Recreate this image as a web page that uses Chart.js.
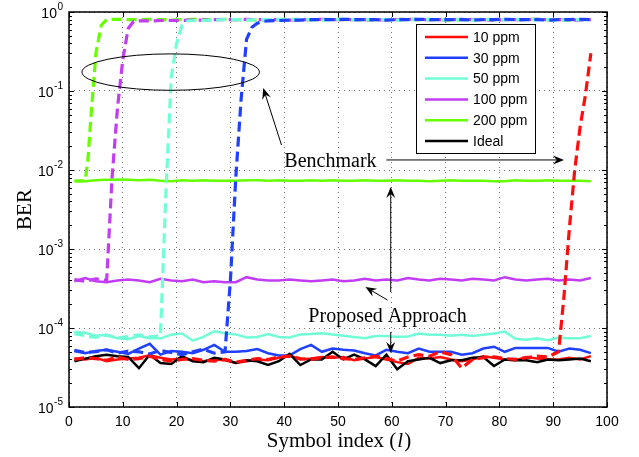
<!DOCTYPE html>
<html>
<head>
<meta charset="utf-8">
<script src="https://cdn.jsdelivr.net/npm/chart.js@4/dist/chart.umd.min.js"></script>
<style>
  body { margin: 0; background: #fff; }
  canvas { display: block; }
</style>
</head>
<body>
<canvas id="berChart" width="639" height="457"></canvas>
<script>
// ---- data ----
const xTicks = [0, 10, 20, 30, 40, 50, 60, 70, 80, 90, 100];
const yDecades = [1e-5, 1e-4, 1e-3, 1e-2, 1e-1, 1];
const yExponents = ['-5', '-4', '-3', '-2', '-1', '0'];
const minorSteps = [2, 3, 4, 5, 6, 7, 8, 9];

const symbolIdx = [1,3,5,7,9,11,13,15,17,19,21,23,25,27,29,31,33,35,37,39,41,43,45,47,49,
  51,53,55,57,59,61,63,65,67,69,71,73,75,77,79,81,83,85,87,89,91,93,95,97];

// proposed approach (solid)
const ber10 = [4.1e-5,4.0e-5,4.2e-5,3.8e-5,4.0e-5,4.1e-5,4.2e-5,4.5e-5,4.2e-5,4.0e-5,
  4.1e-5,3.9e-5,3.8e-5,4.0e-5,3.9e-5,3.6e-5,3.8e-5,4.0e-5,3.9e-5,4.2e-5,
  4.5e-5,4.0e-5,4.1e-5,4.3e-5,4.2e-5,4.3e-5,3.9e-5,4.1e-5,4.3e-5,4.0e-5,
  3.7e-5,3.5e-5,4.2e-5,4.1e-5,4.3e-5,4.0e-5,3.8e-5,4.0e-5,4.4e-5,4.2e-5,
  4.0e-5,3.9e-5,4.3e-5,4.1e-5,4.0e-5,4.0e-5,4.2e-5,4.0e-5,4.4e-5];
const ber30 = [5.1e-5,4.8e-5,5.1e-5,5.3e-5,5.0e-5,4.7e-5,5.5e-5,6.3e-5,4.6e-5,5.1e-5,
  5.0e-5,4.8e-5,5.3e-5,6.1e-5,5.0e-5,5.0e-5,5.1e-5,5.4e-5,4.8e-5,4.5e-5,
  4.5e-5,5.4e-5,6.1e-5,5.0e-5,5.5e-5,5.3e-5,5.2e-5,4.8e-5,4.5e-5,5.3e-5,
  5.0e-5,4.8e-5,5.5e-5,5.0e-5,5.0e-5,5.0e-5,4.6e-5,4.8e-5,5.5e-5,5.8e-5,
  5.0e-5,5.6e-5,5.6e-5,5.6e-5,5.6e-5,5.0e-5,5.5e-5,5.3e-5,4.8e-5];
const ber50 = [8.9e-5,8.7e-5,8.0e-5,8.2e-5,7.4e-5,7.2e-5,7.9e-5,7.4e-5,7.4e-5,8.2e-5,
  8.5e-5,6.9e-5,7.7e-5,9.1e-5,8.6e-5,8.3e-5,7.6e-5,7.7e-5,8.4e-5,7.7e-5,
  7.6e-5,8.3e-5,8.4e-5,8.6e-5,8.3e-5,8.0e-5,7.7e-5,7.4e-5,7.9e-5,7.9e-5,
  7.7e-5,7.8e-5,8.5e-5,8.2e-5,8.2e-5,8.0e-5,8.2e-5,7.9e-5,8.2e-5,8.5e-5,
  9.0e-5,7.3e-5,7.1e-5,7.4e-5,7.0e-5,7.5e-5,7.4e-5,7.4e-5,7.9e-5];
const ber100 = [3.9e-4,4.3e-4,3.9e-4,3.8e-4,4.0e-4,4.1e-4,4.0e-4,3.8e-4,4.2e-4,4.0e-4,
  3.9e-4,4.1e-4,3.8e-4,3.9e-4,3.8e-4,3.8e-4,4.4e-4,4.1e-4,4.0e-4,4.0e-4,
  4.1e-4,4.0e-4,3.9e-4,4.0e-4,4.1e-4,3.9e-4,4.0e-4,4.2e-4,4.0e-4,4.1e-4,
  4.0e-4,4.3e-4,4.1e-4,4.0e-4,4.2e-4,4.1e-4,4.0e-4,4.2e-4,4.1e-4,4.0e-4,
  4.4e-4,4.1e-4,4.0e-4,4.1e-4,4.2e-4,4.0e-4,4.1e-4,4.0e-4,4.3e-4];
const ber200 = [7.3e-3,7.2e-3,7.4e-3,7.5e-3,7.6e-3,7.5e-3,7.4e-3,7.5e-3,7.3e-3,7.2e-3,
  7.4e-3,7.3e-3,7.4e-3,7.3e-3,7.3e-3,7.3e-3,7.4e-3,7.4e-3,7.3e-3,7.4e-3,
  7.3e-3,7.3e-3,7.4e-3,7.3e-3,7.4e-3,7.3e-3,7.3e-3,7.4e-3,7.3e-3,7.3e-3,
  7.4e-3,7.3e-3,7.3e-3,7.2e-3,7.3e-3,7.4e-3,7.3e-3,7.3e-3,7.3e-3,7.2e-3,
  7.2e-3,7.4e-3,7.3e-3,7.3e-3,7.4e-3,7.3e-3,7.3e-3,7.3e-3,7.2e-3];
const berIdeal = [3.8e-5,4.1e-5,4.4e-5,4.6e-5,4.4e-5,4.3e-5,3.1e-5,4.6e-5,3.6e-5,3.5e-5,
  4.4e-5,3.8e-5,3.7e-5,4.2e-5,4.0e-5,3.6e-5,3.9e-5,3.8e-5,3.4e-5,3.8e-5,
  4.7e-5,3.4e-5,4.0e-5,4.0e-5,5.0e-5,4.0e-5,4.6e-5,4.0e-5,3.3e-5,4.6e-5,
  3.0e-5,3.8e-5,4.0e-5,4.2e-5,3.6e-5,3.9e-5,3.9e-5,4.2e-5,4.3e-5,3.3e-5,
  4.0e-5,3.9e-5,3.9e-5,3.7e-5,4.0e-5,3.9e-5,4.0e-5,4.1e-5,3.8e-5];

// benchmark (dashed)
const bench200X = [1,2,3,3.5,4,5,6,7,9,11,13,15,17,19,21,23,25,27,29,31,33,35,37,39,41,43,45,47,
  49,51,53,55,57,59,61,63,65,67,69,71,73,75,77,79,81,83,85,87,89,91,93,95,97];
const bench200 = [7.2e-3,7.3e-3,7.3e-3,0.013,0.04,0.3,0.68,0.8,
  0.81,0.8,0.8,0.81,0.8,0.79,0.8,0.81,0.8,0.8,0.81,0.8,0.8,0.79,0.8,0.8,0.81,0.8,0.8,0.8,
  0.81,0.8,0.8,0.79,0.8,0.8,0.8,0.81,0.8,0.8,0.8,0.79,0.8,0.8,0.81,0.8,0.8,0.8,0.8,0.81,
  0.8,0.8,0.79,0.8,0.8];
const bench100X = [1,3,5,7,8,9,10,11,12,13,15,17,19,21,23,25,27,29,31,33,35,37,39,41,43,45,47,
  49,51,53,55,57,59,61,63,65,67,69,71,73,75,77,79,81,83,85,87,89,91,93,95,97];
const bench100 = [4.1e-4,3.9e-4,4.2e-4,4.0e-4,0.008,0.06,0.25,0.62,0.76,
  0.77,0.77,0.78,0.78,0.78,0.79,0.79,0.8,0.8,0.8,0.81,0.8,0.8,0.8,0.79,0.8,0.8,0.81,0.8,0.8,
  0.8,0.8,0.79,0.8,0.8,0.81,0.8,0.8,0.8,0.8,0.81,0.8,0.8,0.79,0.8,0.8,0.8,0.81,0.8,0.8,
  0.8,0.79,0.8];
const bench50X = [1,3,5,7,9,11,13,15,17,18,19,20,21,22,23,25,27,29,31,33,35,37,39,41,43,45,47,
  49,51,53,55,57,59,61,63,65,67,69,71,73,75,77,79,81,83,85,87,89,91,93,95,97];
const bench50 = [8.5e-5,8.0e-5,7.6e-5,8.1e-5,7.5e-5,7.8e-5,8.2e-5,7.7e-5,8.0e-5,
  5e-3,0.15,0.4,0.68,0.77,
  0.78,0.78,0.79,0.8,0.8,0.79,0.8,0.8,0.81,0.8,0.8,0.8,0.79,0.8,0.81,0.8,0.8,0.8,0.8,0.79,
  0.8,0.8,0.81,0.8,0.8,0.8,0.79,0.8,0.8,0.8,0.81,0.8,0.8,0.8,0.79,0.8,0.8,0.8];
const bench30X = [1,3,5,7,9,11,13,15,17,19,21,23,25,27,29,30,31,32,33,34,35,36,37,39,41,43,45,47,
  49,51,53,55,57,59,61,63,65,67,69,71,73,75,77,79,81,83,85,87,89,91,93,95,97];
const bench30 = [5.2e-5,4.9e-5,5.0e-5,5.3e-5,4.8e-5,5.1e-5,5.0e-5,4.7e-5,5.2e-5,4.9e-5,
  4.6e-5,5.0e-5,5.4e-5,4.8e-5,5.0e-5,
  4e-4,0.008,0.08,0.45,0.64,0.72,0.76,
  0.77,0.78,0.79,0.79,0.8,0.8,0.8,0.81,0.8,0.8,0.8,0.79,0.8,0.8,0.81,0.8,0.8,0.8,0.8,0.79,
  0.8,0.8,0.81,0.8,0.8,0.8,0.79,0.8,0.8,0.81,0.8];
const bench10X = [1,3,5,7,9,11,13,15,17,19,21,23,25,27,29,31,33,35,37,39,41,43,45,47,49,51,53,
  55,57,59,61,63,65,67,69,71,73,75,77,79,81,83,85,87,89,91,92,93,94,95,96,97];
const bench10 = [4.0e-5,4.2e-5,4.1e-5,3.9e-5,4.3e-5,4.0e-5,4.1e-5,4.4e-5,4.0e-5,3.8e-5,
  4.0e-5,4.1e-5,3.9e-5,3.8e-5,4.0e-5,3.7e-5,3.9e-5,4.1e-5,4.0e-5,4.3e-5,
  4.4e-5,4.1e-5,4.0e-5,4.2e-5,4.3e-5,4.1e-5,4.0e-5,4.2e-5,4.4e-5,4.1e-5,
  3.8e-5,4.3e-5,4.6e-5,4.4e-5,5.0e-5,4.6e-5,3.1e-5,4.0e-5,4.2e-5,4.3e-5,
  4.1e-5,4.0e-5,4.2e-5,4.4e-5,4.3e-5,5.0e-5,
  2.5e-4,1.8e-3,0.01,0.035,0.09,0.3];

const legendLabels = ['10 ppm', '30 ppm', '50 ppm', '100 ppm', '200 ppm', 'Ideal'];
const lineColors = ['#ff0d0d', '#1f40ff', '#70ffd6', '#c23cf5', '#66ff00', '#000000'];

// ---- helpers ----
const pts = (xs, ys) => xs.map((v, i) => ({ x: v, y: ys[i] }));

function solid(idx, ys) {
  return { label: legendLabels[idx], data: pts(symbolIdx, ys), borderColor: lineColors[idx],
    borderWidth: 2.5, pointRadius: 0, tension: 0, fill: false };
}
function dashed(idx, xs, ys) {
  return { label: legendLabels[idx] + ' benchmark', data: pts(xs, ys), borderColor: lineColors[idx],
    borderWidth: 3.2, borderDash: [10, 5], pointRadius: 0, tension: 0, fill: false };
}

function arrowHead(ctx, x1, y1, x2, y2) {
  const ang = Math.atan2(y2 - y1, x2 - x1);
  const L = 11, W = 4.5;
  const c = Math.cos(ang), s = Math.sin(ang);
  ctx.beginPath();
  ctx.moveTo(x1, y1);
  ctx.lineTo(x2 - 0.6 * L * c, y2 - 0.6 * L * s);
  ctx.stroke();
  ctx.beginPath();
  ctx.moveTo(x2, y2);
  ctx.lineTo(x2 - L * c - W * s, y2 - L * s + W * c);
  ctx.lineTo(x2 - 0.65 * L * c, y2 - 0.65 * L * s);
  ctx.lineTo(x2 - L * c + W * s, y2 - L * s - W * c);
  ctx.closePath();
  ctx.fill();
}

// frame, inward ticks, log labels, titles, legend and annotations
const decor = {
  id: 'decor',
  afterDraw(chart) {
    const { ctx, chartArea: a, scales: { x, y } } = chart;
    ctx.save();
    ctx.strokeStyle = '#000';
    ctx.fillStyle = '#000';
    ctx.lineWidth = 1;

    ctx.beginPath();
    xTicks.forEach(v => {
      const px = Math.round(x.getPixelForValue(v)) + 0.5;
      ctx.moveTo(px, a.bottom); ctx.lineTo(px, a.bottom - 5);
      ctx.moveTo(px, a.top); ctx.lineTo(px, a.top + 5);
    });
    yDecades.forEach((d, i) => {
      const py = Math.round(y.getPixelForValue(d)) + 0.5;
      ctx.moveTo(a.left, py); ctx.lineTo(a.left + 5, py);
      ctx.moveTo(a.right, py); ctx.lineTo(a.right - 5, py);
      if (i < yDecades.length - 1) {
        minorSteps.forEach(m => {
          const pm = Math.round(y.getPixelForValue(d * m)) + 0.5;
          ctx.moveTo(a.left, pm); ctx.lineTo(a.left + 3, pm);
          ctx.moveTo(a.right, pm); ctx.lineTo(a.right - 3, pm);
        });
      }
    });
    ctx.stroke();

    ctx.lineWidth = 1.5;
    ctx.strokeRect(a.left, a.top, a.right - a.left, a.bottom - a.top);

    // y tick labels 10^n
    ctx.textAlign = 'right';
    ctx.textBaseline = 'middle';
    yDecades.forEach((d, i) => {
      const py = y.getPixelForValue(d);
      const xr = a.left - 6;
      ctx.font = '10px "Liberation Sans", Arial, sans-serif';
      const w = ctx.measureText(yExponents[i]).width;
      ctx.fillText(yExponents[i], xr, py - 5);
      ctx.font = '14px "Liberation Sans", Arial, sans-serif';
      ctx.fillText('10', xr - w - 0.5, py + 2);
    });

    // axis titles
    ctx.textBaseline = 'alphabetic';
    ctx.textAlign = 'left';
    const serif = '"Liberation Serif", "Times New Roman", serif';
    ctx.font = '21px ' + serif;
    const t1 = 'Symbol index (', t3 = ')';
    const w1 = ctx.measureText(t1).width, w3 = ctx.measureText(t3).width;
    ctx.font = 'italic 21px ' + serif;
    const w2 = ctx.measureText('l').width;
    let tx = (a.left + a.right) / 2 - (w1 + w2 + w3) / 2;
    const ty = 447;
    ctx.font = '21px ' + serif;
    ctx.fillText(t1, tx, ty);
    ctx.font = 'italic 21px ' + serif;
    ctx.fillText('l', tx + w1 + 1, ty);
    ctx.font = '21px ' + serif;
    ctx.fillText(t3, tx + w1 + w2 + 2, ty);

    ctx.save();
    ctx.translate(31, (a.top + a.bottom) / 2);
    ctx.rotate(-Math.PI / 2);
    ctx.textAlign = 'center';
    ctx.fillText('BER', 0, 0);
    ctx.restore();

    // legend
    const lx = 416, lyTop = 24, lw = 119, lh = 129;
    ctx.fillStyle = '#fff';
    ctx.fillRect(lx, lyTop, lw, lh);
    ctx.lineWidth = 1;
    ctx.strokeStyle = '#000';
    ctx.strokeRect(lx + 0.5, lyTop + 0.5, lw, lh);
    ctx.font = '14px "Liberation Sans", Arial, sans-serif';
    ctx.textBaseline = 'middle';
    legendLabels.forEach((lab, i) => {
      const ry = 37 + i * 20.8;
      ctx.strokeStyle = lineColors[i];
      ctx.lineWidth = 2.5;
      ctx.beginPath();
      ctx.moveTo(lx + 9, ry); ctx.lineTo(lx + 52, ry);
      ctx.stroke();
      ctx.fillStyle = '#000';
      ctx.fillText(lab, lx + 57, ry + 1);
    });

    // annotations, placed in data coordinates
    const P = (vx, vy) => [x.getPixelForValue(vx), y.getPixelForValue(vy)];
    ctx.strokeStyle = '#000';
    ctx.fillStyle = '#000';
    ctx.lineWidth = 1;
    const [eL, eT] = P(2.4, 0.295);
    const [eR, eB] = P(35.4, 0.102);
    ctx.beginPath();
    ctx.ellipse((eL + eR) / 2, (eT + eB) / 2, (eR - eL) / 2, (eB - eT) / 2, 0, 0, Math.PI * 2);
    ctx.stroke();

    ctx.font = '20px ' + serif;
    ctx.textAlign = 'center';
    ctx.textBaseline = 'alphabetic';
    let p = P(48.6, 0.0109);
    ctx.fillText('Benchmark', p[0], p[1]);
    p = P(59.2, 1.19e-4);
    ctx.fillText('Proposed Approach', p[0], p[1]);

    const arrows = [
      [39.5, 0.0207, 36.1, 0.109],
      [59.0, 0.0134, 92.0, 0.0134],
      [59.8, 2.86e-4, 59.8, 6.1e-3],
      [59.2, 2.26e-4, 55.1, 3.3e-4],
      [59.8, 8.9e-5, 59.8, 4.83e-5]
    ];
    arrows.forEach(([ax1, ay1, ax2, ay2]) => {
      const s = P(ax1, ay1), e = P(ax2, ay2);
      arrowHead(ctx, s[0], s[1], e[0], e[1]);
    });

    ctx.restore();
  }
};

const gridStyle = { color: 'rgba(0,0,0,0.55)', lineWidth: 1, drawTicks: false };

new Chart(document.getElementById('berChart'), {
  type: 'line',
  data: {
    datasets: [
      dashed(0, bench10X, bench10),
      dashed(1, bench30X, bench30),
      dashed(2, bench50X, bench50),
      dashed(3, bench100X, bench100),
      dashed(4, bench200X, bench200),
      solid(5, berIdeal),
      solid(0, ber10),
      solid(1, ber30),
      solid(2, ber50),
      solid(3, ber100),
      solid(4, ber200)
    ]
  },
  options: {
    responsive: false,
    animation: false,
    layout: { padding: { top: 12, right: 32, left: 0, bottom: 0 } },
    plugins: { legend: { display: false }, tooltip: { enabled: false } },
    scales: {
      x: {
        type: 'linear', min: 0, max: 100,
        ticks: { stepSize: 10, color: '#000', padding: 7, maxRotation: 0,
          font: { family: '"Liberation Sans", Arial, sans-serif', size: 14 } },
        grid: gridStyle,
        border: { display: false, dash: [1, 4] },
        afterFit(s) { s.height = 50; }
      },
      y: {
        type: 'logarithmic', min: 1e-5, max: 1,
        afterBuildTicks(s) { s.ticks = yDecades.map(v => ({ value: v })); },
        ticks: { display: false },
        grid: gridStyle,
        border: { display: false, dash: [1, 4] },
        afterFit(s) { s.width = 69; }
      }
    }
  },
  plugins: [decor]
});
</script>
</body>
</html>
